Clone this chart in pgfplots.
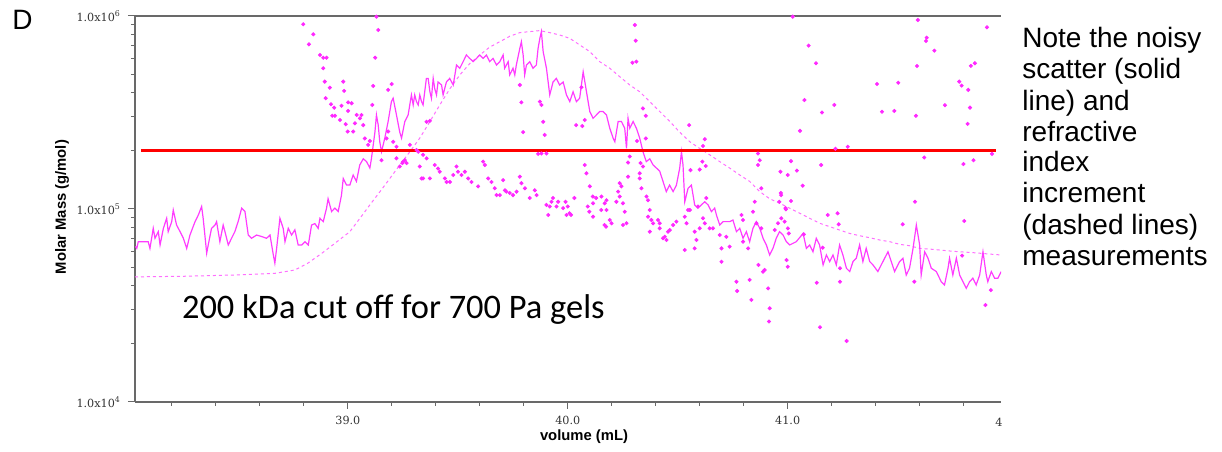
\documentclass[border=0pt]{standalone}
\usepackage{fontspec}
\usepackage{pgfplots}
\pgfplotsset{compat=1.18}
\setmainfont{Liberation Sans}
\newfontfamily\tickfont{DejaVu Serif}
\newfontfamily\calfont{Carlito}
\definecolor{mag}{RGB}{255,60,255}
\definecolor{magdot}{RGB}{255,40,255}
\definecolor{magdash}{RGB}{255,110,255}
\definecolor{axgray}{RGB}{105,105,105}
\begin{document}
\begin{tikzpicture}
\path[use as bounding box] (-67.5pt,-24.5pt) rectangle (543.5pt,201pt);
\begin{axis}[
  at={(0pt,0pt)}, anchor=south west,
  scale only axis, width=433pt, height=193pt,
  xmin=38.032, xmax=41.97, ymin=1e4, ymax=1e6,
  ymode=log,
  axis x line=box, axis y line=left,
  axis line style={axgray, line width=0.6pt, -},
  xtick pos=left, ytick pos=left,
  tick align=outside,
  major tick length=3.5pt, minor tick length=2pt,
  tick style={axgray, line width=0.5pt},
  xtick={39,40,41},
  xticklabels={39.0,40.0,41.0},
  minor xtick={38.2,38.4,38.6,38.8,39.2,39.4,39.6,39.8,40.2,40.4,40.6,40.8,41.2,41.4,41.6,41.8},
  ytick={1e4,1e5,1e6},
  yticklabels={1.0x10\textsuperscript{4},1.0x10\textsuperscript{5},1.0x10\textsuperscript{6}},
  minor ytick={2e4,3e4,4e4,5e4,6e4,7e4,8e4,9e4,2e5,3e5,4e5,5e5,6e5,7e5,8e5,9e5},
  ticklabel style={font=\tickfont\fontsize{5.6}{6.5}\selectfont, text=black!80},
  clip=true,
]
% dashed (RI) curve
\addplot[magdash, line width=0.5pt, dash pattern=on 1.5pt off 1.5pt] coordinates {
(38.032,4.45e4) (38.25,4.48e4) (38.486,4.55e4) (38.668,4.64e4) (38.759,4.83e4) (38.818,5.24e4)
(38.882,5.9e4) (38.941,6.64e4) (39.009,7.63e4) (39.055,8.95e4) (39.1,1.05e5) (39.146,1.23e5)
(39.191,1.44e5) (39.236,1.69e5) (39.282,1.98e5) (39.327,2.33e5) (39.373,2.84e5) (39.418,3.46e5)
(39.464,4.2e5) (39.509,4.95e5) (39.555,5.68e5) (39.6,6.28e5) (39.645,6.9e5) (39.691,7.36e5)
(39.736,7.85e5) (39.782,8.2e5) (39.827,8.3e5) (39.873,8.4e5) (39.918,8.2e5) (39.964,7.97e5)
(40.009,7.66e5) (40.055,7.07e5) (40.1,6.54e5) (40.145,5.8e5) (40.191,5.36e5) (40.236,4.85e5)
(40.282,4.39e5) (40.327,4.05e5) (40.373,3.6e5) (40.418,3.2e5) (40.464,2.84e5) (40.509,2.5e5)
(40.555,2.23e5) (40.6,2.06e5) (40.645,1.91e5) (40.691,1.76e5) (40.736,1.63e5) (40.782,1.5e5)
(40.827,1.39e5) (40.873,1.23e5) (40.918,1.13e5) (40.964,1.07e5) (41.009,1.01e5) (41.055,9.5e4)
(41.1,8.95e4) (41.146,8.43e4) (41.191,8.1e4) (41.236,7.78e4) (41.282,7.47e4) (41.327,7.27e4)
(41.373,7.1e4) (41.418,6.91e4) (41.464,6.77e4) (41.509,6.56e4) (41.555,6.45e4) (41.6,6.25e4)
(41.645,6.2e4) (41.691,6.13e4) (41.736,6.06e4) (41.782,6.0e4) (41.827,5.96e4) (41.873,5.9e4)
(41.918,5.84e4) (41.968,5.78e4)
};
% scatter points
\addplot[only marks, mark=*, mark size=0.8pt, magdot, mark options={draw=none, fill=magdot}] coordinates {
(38.797,9.06e5) (38.840,1.01e6) (38.843,8.04e5) (38.823,7.13e5) (38.873,6.28e5) (38.888,6.08e5)
(38.903,6.08e5) (38.888,5.36e5) (38.895,4.57e5) (38.918,4.25e5) (38.979,4.57e5) (38.983,4.09e5)
(38.899,3.75e5) (38.923,3.49e5) (38.938,3.35e5) (38.971,3.43e5) (39.001,3.57e5) (38.929,3.04e5)
(38.941,3.04e5) (38.964,2.89e5) (38.99,2.75e5) (38.999,2.52e5) (39.001,3.22e5) (39.13,9.92e5)
(39.138,8.46e5) (39.124,6.08e5) (39.115,4.34e5) (39.199,4.44e5) (39.183,4.14e5) (39.221,2.10e5)
(39.342,1.44e5) (39.327,1.66e5) (39.312,2.02e5) (39.251,1.76e5) (39.236,1.66e5) (39.267,1.73e5)
(39.111,3.46e5) (39.017,3.53e5) (39.04,3.07e5) (39.062,3.07e5) (39.055,2.95e5) (39.032,2.78e5)
(39.07,2.72e5) (39.024,2.52e5) (39.077,2.32e5) (39.092,2.15e5) (39.1,2.25e5) (39.183,2.52e5)
(39.176,2.32e5) (39.206,2.23e5) (39.153,1.79e5) (39.221,1.83e5) (39.248,1.73e5) (39.259,1.79e5)
(39.282,2.15e5) (39.32,1.98e5) (39.342,1.91e5) (39.358,1.83e5) (39.335,1.44e5) (39.373,1.44e5)
(39.395,1.69e5) (39.41,1.62e5) (39.418,1.56e5) (39.441,1.44e5) (39.449,1.38e5) (39.464,1.38e5)
(39.479,1.50e5) (39.494,1.66e5) (39.501,1.56e5) (39.517,1.50e5) (39.532,1.56e5) (39.547,1.44e5)
(39.562,1.38e5) (39.592,1.31e5) (39.615,1.76e5) (39.623,1.69e5) (39.638,1.44e5) (39.653,1.38e5)
(39.668,1.28e5) (39.676,1.18e5) (39.691,1.18e5) (39.706,1.41e5) (39.714,1.25e5) (39.721,1.23e5)
(39.736,1.21e5) (39.751,1.18e5) (39.767,1.23e5) (39.782,1.47e5) (39.789,1.36e5) (39.805,1.28e5)
(39.827,1.14e5) (39.85,1.25e5) (39.858,1.18e5) (39.782,4.39e5) (39.789,3.57e5) (39.797,2.50e5)
(39.873,3.60e5) (39.88,3.46e5) (39.888,2.83e5) (39.895,2.42e5) (39.88,1.94e5) (39.903,1.05e5)
(39.918,1.03e5) (39.926,1.09e5) (39.933,1.14e5) (39.949,1.03e5) (39.956,1.09e5) (39.911,9.31e4)
(39.979,1.01e5) (39.994,9.31e4) (39.358,2.83e5) (39.373,2.86e5) (40.305,8.98e5) (40.309,7.45e5)
(40.294,5.73e5) (40.312,5.8e5) (39.865,1.93e5) (39.903,1.94e5) (40.066,2.69e5) (40.077,2.89e5)
(40.062,4.27e5) (40.282,1.87e5) (40.274,1.74e5) (40.331,1.73e5) (40.327,1.53e5) (40.342,1.66e5)
(40.355,2.32e5) (40.342,3.32e5) (40.552,2.72e5) (40.623,2.30e5) (40.615,2.12e5) (40.612,1.76e5)
(40.627,1.67e5) (40.558,1.59e5) (40.6,1.60e5) (40.077,1.69e5) (40.085,1.53e5) (40.1,1.31e5)
(40.115,1.07e5) (40.115,9.12e4) (40.153,1.16e5) (40.168,1.07e5) (40.176,9.88e4) (40.191,8.77e4)
(40.199,8.43e4) (40.236,1.36e5) (40.229,1.23e5) (40.236,1.16e5) (40.251,1.07e5) (40.259,9.68e4)
(40.267,8.43e4) (40.358,1.16e5) (40.373,9.88e4) (40.365,9.12e4) (40.38,8.77e4) (40.388,8.43e4)
(40.373,7.63e4) (40.418,8.43e4) (40.441,7.18e4) (40.449,6.91e4) (40.456,7.63e4) (40.464,7.78e4)
(40.494,8.6e4) (40.532,9.12e4) (40.547,9.88e4) (40.54,8.43e4) (40.585,6.91e4) (40.532,6.13e4)
(40.577,6.25e4) (40.645,7.94e4) (40.615,8.95e4) (40.592,1.03e5) (39.99,1.09e5) (40.0,1.03e5)
(40.03,1.14e5) (40.008,9.5e4) (40.015,9.31e4) (40.091,1.03e5) (40.098,9.68e4) (40.114,1.16e5)
(40.129,1.14e5) (40.152,9.88e4) (40.167,8.26e4) (40.174,8.1e4) (40.251,8.26e4) (40.365,1.11e5)
(40.327,1.44e5) (40.335,1.28e5) (40.41,8.77e4) (40.418,7.94e4) (40.433,7.05e4) (40.479,8.26e4)
(40.555,9.88e4) (40.577,7.63e4) (40.6,7.94e4) (40.63,1.14e5) (40.623,8.43e4) (40.66,7.94e4)
(40.691,7.33e4) (40.699,6.25e4) (40.699,5.33e4) (40.721,7.18e4) (40.736,6.38e4) (40.767,4.2e4)
(40.77,3.76e4) (40.79,9.31e4) (40.797,6.77e4) (40.82,6.25e4) (40.827,4.29e4) (40.835,3.38e4)
(40.858,8.43e4) (40.88,7.94e4) (40.888,4.73e4) (40.895,4.83e4) (40.911,3.88e4) (40.918,3.06e4)
(40.915,2.61e4) (40.941,7.78e4) (40.956,8.43e4) (40.971,8.95e4) (40.986,8.6e4) (41.001,7.94e4)
(40.865,1.94e5) (40.873,1.79e5) (40.865,1.69e5) (40.88,1.28e5) (40.85,1.09e5) (40.842,9.68e4)
(40.97,1.18e5) (40.962,1.09e5) (40.038,2.72e5) (40.355,3.04e5) (40.315,2.25e5) (40.274,1.47e5)
(40.244,1.31e5) (40.221,1.09e5) (40.176,1.11e5)
(41.023,9.92e5) (41.095,7.02e5) (41.129,5.69e5) (41.076,3.67e5) (41.156,3.16e5) (41.212,3.46e5)
(41.056,2.54e5) (41.217,2.05e5) (41.273,2.10e5) (41.015,1.77e5) (41.152,1.69e5) (41.042,1.58e5)
(41.0,1.50e5) (41.068,1.32e5) (41.015,1.10e5) (40.99,1.01e5) (41.182,9.31e4) (41.227,9.5e4)
(41.232,8.33e4) (41.073,7.39e4) (41.005,7.47e4) (41.159,6.3e4) (40.995,5.44e4) (41.0,5.02e4)
(41.238,4.93e4) (41.238,4.2e4) (41.132,4.15e4) (41.147,2.44e4) (41.268,2.07e4) (41.406,4.44e5)
(41.429,3.19e5) (41.485,3.22e5) (41.503,4.51e5) (41.592,9.53e5) (41.588,5.51e5) (41.583,3.04e5)
(41.632,7.72e5) (41.629,7.42e5) (41.667,6.61e5) (41.715,3.45e5) (41.621,1.85e5) (41.579,1.09e5)
(41.523,8.33e4) (41.576,4.2e4) (41.803,8.67e4) (41.799,1.71e5) (41.845,1.79e5) (41.78,4.57e5)
(41.791,4.36e5) (41.821,4.14e5) (41.833,5.51e5) (41.851,5.69e5) (41.829,3.35e5) (41.818,2.76e5)
(41.906,8.74e5) (41.929,1.93e5) (41.793,5.73e4) (41.899,3.18e4) (41.924,3.8e4) (40.967,1.56e5)
(40.969,1.21e5) (40.992,9.96e4) (40.867,5.13e4) (40.797,8.77e4)
};
% solid (scatter-based) curve
\addplot[mag, line width=0.6pt] coordinates {
(38.034,6.4e4) (38.04,6.25e4) (38.047,6.77e4) (38.062,6.77e4) (38.092,6.77e4) (38.10,6.25e4)
(38.115,7.94e4) (38.123,7.05e4) (38.138,7.63e4) (38.146,6.51e4) (38.161,7.94e4) (38.176,8.95e4)
(38.183,7.63e4) (38.199,8.6e4) (38.206,9.88e4) (38.221,8.26e4) (38.237,7.63e4) (38.252,7.05e4)
(38.267,6.25e4) (38.282,7.33e4) (38.305,8.6e4) (38.32,9.31e4) (38.335,1.03e5) (38.342,8.95e4)
(38.358,5.9e4) (38.365,6.51e4) (38.38,7.94e4) (38.396,8.26e4) (38.403,8.6e4) (38.418,6.77e4)
(38.433,8.26e4) (38.441,7.63e4) (38.456,6.51e4) (38.471,7.05e4) (38.486,7.63e4) (38.501,8.6e4)
(38.517,1.01e5) (38.532,9.7e4) (38.547,7.33e4) (38.562,7.05e4) (38.585,7.33e4) (38.608,7.2e4)
(38.63,7.05e4) (38.646,7.33e4) (38.661,5.78e4) (38.668,5.24e4) (38.676,6.25e4) (38.691,8.95e4)
(38.706,7.94e4) (38.714,6.77e4) (38.729,7.94e4) (38.744,7.33e4) (38.759,7.8e4) (38.774,6.51e4)
(38.79,6.51e4) (38.805,6.77e4) (38.82,6.51e4) (38.835,8.26e4) (38.85,8.4e4) (38.865,7.94e4)
(38.873,8.95e4) (38.888,8.6e4) (38.903,1.01e5) (38.91,1.13e5) (38.926,9.7e4) (38.941,1.01e5)
(38.956,9.7e4) (38.971,1.18e5) (38.979,1.44e5) (38.994,1.33e5) (39.009,1.33e5)
(39.024,1.50e5) (39.039,1.39e5) (39.054,1.69e5) (39.070,1.82e5) (39.085,1.76e5) (39.10,1.63e5)
(39.107,1.82e5) (39.123,2.5e5) (39.13,3.07e5) (39.138,2.72e5) (39.145,2.23e5) (39.153,1.98e5)
(39.168,2.33e5) (39.183,2.84e5) (39.198,3.6e5) (39.206,3.75e5) (39.221,3.07e5) (39.236,2.5e5)
(39.244,2.33e5) (39.259,2.84e5) (39.274,3.07e5) (39.289,3.9e5) (39.297,3.46e5) (39.304,3.9e5)
(39.312,3.6e5) (39.32,3.46e5) (39.327,3.9e5) (39.335,3.6e5) (39.342,3.46e5) (39.357,4.75e5)
(39.365,4.75e5) (39.373,4.05e5) (39.38,3.75e5) (39.388,4.75e5) (39.395,4.2e5) (39.403,3.9e5)
(39.41,4.55e5) (39.426,4.39e5) (39.433,3.9e5) (39.448,4.55e5) (39.463,4.75e5) (39.479,4.39e5)
(39.494,5.57e5) (39.509,5.36e5) (39.524,5.8e5) (39.539,6.28e5) (39.554,6.03e5) (39.57,5.8e5)
(39.585,6.03e5) (39.6,6.28e5) (39.615,6.03e5) (39.63,6.28e5) (39.645,5.8e5) (39.66,6.03e5)
(39.676,5.57e5) (39.691,5.8e5) (39.706,6.28e5) (39.713,5.36e5) (39.729,5.8e5) (39.736,4.95e5)
(39.751,5.36e5) (39.759,4.95e5) (39.766,5.57e5) (39.782,6.8e5) (39.789,7.36e5) (39.797,6.28e5)
(39.804,4.95e5) (39.812,5.57e5) (39.827,5.8e5) (39.842,5.36e5) (39.857,5.57e5) (39.865,6.8e5)
(39.873,7.66e5) (39.88,8.3e5) (39.888,6.54e5) (39.903,5.36e5) (39.918,3.9e5) (39.933,4.55e5)
(39.948,4.75e5) (39.963,4.39e5) (39.979,4.55e5) (39.994,3.9e5) (40.009,3.6e5)
(40.024,4.05e5) (40.039,3.6e5) (40.054,3.75e5) (40.07,5.14e5) (40.085,4.05e5) (40.10,3.2e5)
(40.115,2.95e5) (40.13,3.07e5) (40.145,3.2e5) (40.16,3.2e5) (40.176,3.07e5) (40.191,2.62e5)
(40.206,2.33e5) (40.214,2.23e5) (40.229,2.84e5) (40.244,2.84e5) (40.259,2.62e5) (40.267,2.06e5)
(40.274,2.95e5) (40.282,2.62e5) (40.297,2.84e5) (40.312,2.62e5) (40.327,2.33e5) (40.342,1.98e5)
(40.357,1.76e5) (40.373,1.82e5) (40.388,1.69e5) (40.403,1.63e5) (40.418,1.57e5) (40.433,1.39e5)
(40.448,1.23e5) (40.463,1.33e5) (40.479,1.23e5) (40.494,1.33e5) (40.509,1.63e5) (40.517,1.98e5)
(40.524,1.69e5) (40.532,1.09e5) (40.547,1.28e5) (40.562,1.33e5) (40.577,1.05e5) (40.592,1.01e5)
(40.607,1.05e5) (40.623,1.09e5) (40.638,1.05e5) (40.653,9.7e4) (40.668,1.01e5) (40.676,9.31e4)
(40.691,8.26e4) (40.706,8.6e4) (40.721,8.6e4) (40.736,8.6e4) (40.751,8.77e4) (40.767,7.63e4)
(40.782,7.94e4) (40.797,7.05e4) (40.812,7.63e4) (40.827,6.77e4) (40.842,7.94e4) (40.857,8.6e4)
(40.873,7.94e4) (40.888,7.05e4) (40.903,6.51e4) (40.918,5.78e4) (40.933,6.25e4) (40.948,7.05e4)
(40.963,7.63e4) (40.979,7.33e4) (40.994,6.77e4) (41.009,6.51e4)
(41.039,6.77e4) (41.07,7.47e4) (41.085,6.25e4) (41.10,6.51e4) (41.115,6.0e4) (41.13,7.05e4)
(41.145,6.51e4) (41.161,5.13e4) (41.176,5.78e4) (41.191,5.34e4) (41.206,5.78e4) (41.221,5.13e4)
(41.236,6.51e4) (41.251,5.78e4) (41.267,4.93e4) (41.282,4.74e4) (41.297,5.34e4) (41.312,5.56e4)
(41.327,6.51e4) (41.342,5.34e4) (41.357,6.25e4) (41.373,5.34e4) (41.388,5.13e4) (41.41,4.74e4)
(41.433,5.34e4) (41.456,6.0e4) (41.471,5.34e4) (41.486,4.74e4) (41.509,5.34e4) (41.524,5.56e4)
(41.539,4.55e4) (41.554,4.93e4) (41.57,6.25e4) (41.585,8.26e4) (41.60,6.51e4) (41.607,4.55e4)
(41.623,6.0e4) (41.638,5.56e4) (41.653,4.93e4) (41.676,4.74e4) (41.698,4.2e4) (41.713,4.04e4)
(41.729,4.93e4) (41.736,5.56e4) (41.751,4.55e4) (41.767,5.56e4) (41.782,4.55e4) (41.797,4.2e4)
(41.812,3.88e4) (41.827,4.2e4) (41.842,4.38e4) (41.857,4.04e4) (41.873,4.55e4) (41.888,6.0e4)
(41.903,4.55e4) (41.91,4.2e4) (41.926,4.74e4) (41.941,4.38e4) (41.956,4.38e4) (41.971,4.74e4)
};
% 200 kDa cut-off line
\addplot[color={rgb,255:red,255;green,0;blue,0}, line width=1.5pt] coordinates {(38.059,2e5) (41.945,2e5)};
\end{axis}
% labels and annotations (1 px of the reference = 0.5pt)
\node[anchor=base west, inner sep=0] at (430pt,-12pt) {\tickfont\fontsize{5.6}{6.5}\selectfont\color{black!80}4};
\node[inner sep=0] at (224.5pt,-17.5pt) {\fontsize{7.4}{9}\selectfont\bfseries volume (mL)};
\node[inner sep=0, rotate=90] at (-36.5pt,97.5pt) {\fontsize{7.4}{9}\selectfont\bfseries Molar Mass (g/mol)};
\node[anchor=base west, inner sep=0] at (-61.5pt,186pt) {\fontsize{14}{16}\selectfont D};
\node[anchor=base west, inner sep=0] at (23.35pt,41.85pt) {\calfont\fontsize{17.2}{20}\selectfont 200 kDa cut off for 700 Pa gels};
\begin{scope}[every node/.style={anchor=base west, inner sep=0, font=\fontsize{14}{16}\selectfont}]
\node at (443.5pt,177pt) {Note the noisy};
\node at (443.5pt,161.5pt) {scatter (solid};
\node at (443.5pt,146pt) {line) and};
\node at (443.5pt,130.5pt) {refractive};
\node at (443.5pt,115pt) {index};
\node at (443.5pt,99.5pt) {increment};
\node at (443.5pt,84pt) {(dashed lines)};
\node at (443.5pt,68.5pt) {measurements};
\end{scope}
\end{tikzpicture}
\end{document}
